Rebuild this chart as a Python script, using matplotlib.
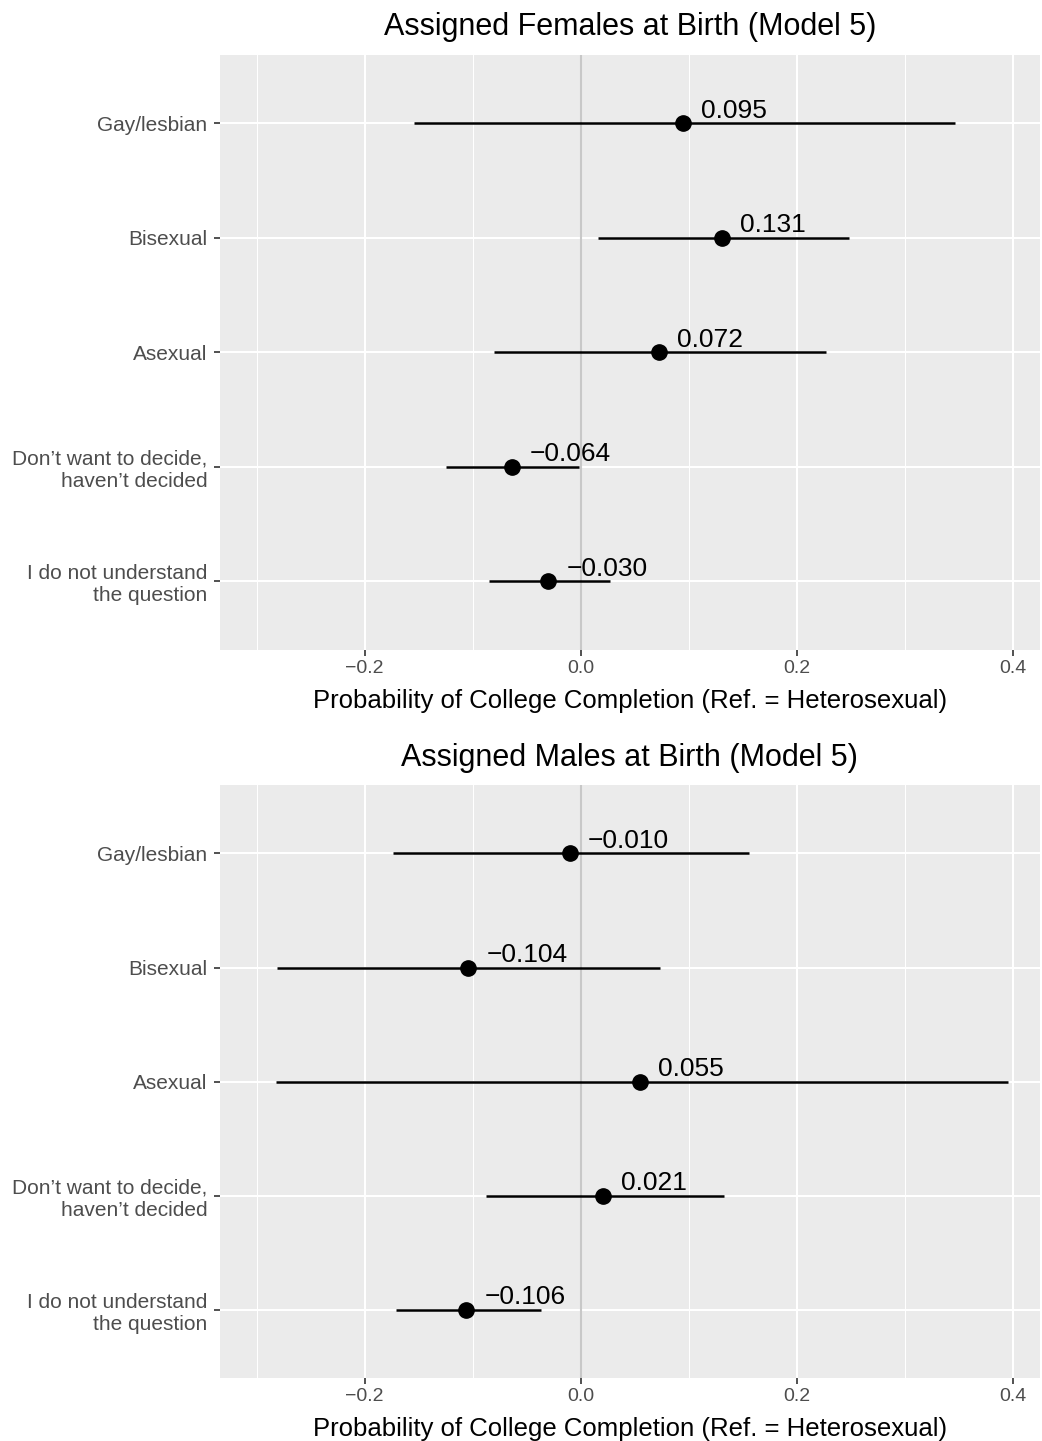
import numpy as np
import matplotlib
matplotlib.use("Agg")
import matplotlib.pyplot as plt
from matplotlib.ticker import MultipleLocator

plt.rcParams['font.family'] = ['Liberation Sans', 'DejaVu Sans']

categories = ["Gay/lesbian", "Bisexual", "Asexual",
              "Don\u2019t want to decide,\nhaven\u2019t decided",
              "I do not understand\nthe question"]

# assigned females at birth
fem_est = [0.095, 0.131, 0.072, -0.064, -0.030]
fem_lo = [-0.154, 0.016, -0.080, -0.125, -0.085]
fem_hi = [0.346, 0.248, 0.227, -0.002, 0.027]

# assigned males at birth
male_est = [-0.010, -0.104, 0.055, 0.021, -0.106]
male_lo = [-0.174, -0.281, -0.282, -0.088, -0.171]
male_hi = [0.156, 0.073, 0.395, 0.133, -0.037]

xticks = [-0.2, 0.0, 0.2, 0.4]
titles = ["Assigned Females at Birth (Model 5)", "Assigned Males at Birth (Model 5)"]
xlab = "Probability of College Completion (Ref. = Heterosexual)"


def fmt(v, nd=3):
    s = "%.*f" % (nd, v)
    return s.replace("-", "\u2212")


def panel(ax, est, lo, hi, title):
    ax.set_facecolor("#EBEBEB")
    for s in ax.spines.values():
        s.set_visible(False)
    ypos = np.arange(len(categories))
    ax.set_xlim(-0.334, 0.425)
    ax.set_ylim(len(categories) - 0.4, -0.6)
    ax.xaxis.set_minor_locator(MultipleLocator(0.1))
    ax.grid(which="major", color="white", lw=1.5)
    ax.grid(which="minor", axis="x", color="white", lw=0.75)
    ax.set_axisbelow(True)
    ax.axvline(0, color="#C8C8C8", lw=1.5, zorder=1)
    ax.hlines(ypos, lo, hi, color="black", lw=1.8, zorder=3)
    ax.plot(est, ypos, "o", color="black", ms=11, zorder=4)
    for e, y in zip(est, ypos):
        ax.annotate(fmt(e), (e, y), xytext=(13, 4), textcoords="offset points",
                    ha="left", va="baseline", fontsize=19, color="black")
    ax.set_yticks(ypos)
    ax.set_yticklabels(categories, fontsize=15, color="#4D4D4D", linespacing=1.2)
    ax.set_xticks(xticks)
    ax.set_xticklabels([fmt(v, 1) for v in xticks], fontsize=14, color="#4D4D4D")
    ax.tick_params(which="major", length=4, width=1.2, color="#333333", pad=3)
    ax.tick_params(axis="y", pad=5)
    ax.tick_params(which="minor", length=0)
    ax.set_xlabel(xlab, fontsize=18.5, labelpad=9)
    ax.set_title(title, fontsize=22, pad=14)


fig = plt.figure(figsize=(10.42, 14.41), dpi=100)
ax1 = fig.add_axes([0.211, 0.549, 0.787, 0.413])
ax2 = fig.add_axes([0.211, 0.0437, 0.787, 0.4115])
panel(ax1, fem_est, fem_lo, fem_hi, titles[0])
panel(ax2, male_est, male_lo, male_hi, titles[1])

fig.savefig("out.png", dpi=100)
